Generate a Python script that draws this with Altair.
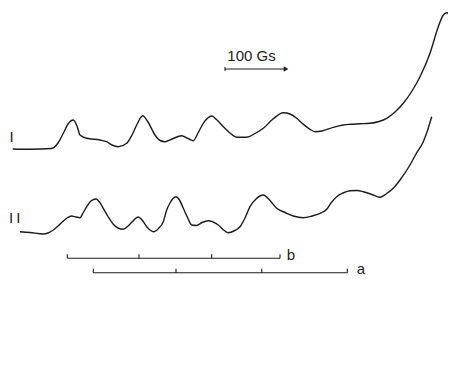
import altair as alt
import pandas as pd

# ---- data (in figure units) ----
curve1_x = [12.7, 30, 51.7, 58, 63.3, 68, 73.3, 77, 80, 86.7, 100, 106.7, 112, 118.3, 126.7, 132, 136.7,
            142.7, 148, 155, 160, 165, 172, 181.7, 188, 193.3, 198, 203.3, 211.7, 217, 223.3, 230, 236.7,
            246.7, 255, 263.3, 273, 283.3, 290, 296.7, 303, 310, 315, 322, 333.3, 343.3, 350, 360, 370,
            379, 386.7, 395, 403.3, 412, 420, 430, 438.3, 443, 446.7, 449.5, 451.7, 453, 454, 455]
curve1_y = [149, 149.3, 148.5, 143, 133.3, 124, 120, 126, 135, 138.3, 140, 141.7, 145, 146.7, 143.3, 135, 125,
            115.7, 122, 135, 140.5, 141.7, 139, 135.7, 138.5, 140.7, 133, 123.3, 116, 120, 126.7, 133, 137.3,
            137.3, 133.5, 128.3, 119, 112.7, 114, 118.3, 124, 129.3, 131.7, 131, 127.3, 125, 124.3, 123.8, 123.3,
            121.5, 118.3, 112, 103.3, 91, 76.7, 53.3, 26.7, 15.5, 12.7, 15, 20, 35, 60, 90]

curve2_x = [20, 30, 43.3, 48, 53.3, 58, 63.3, 67, 71.7, 76, 80, 83, 86.7, 91, 96, 99.5, 103.3, 108, 113.3,
            118, 123.3, 127.5, 131.7, 138.3, 142, 146.7, 150, 154, 158.5, 163.3, 166.7, 170, 173, 176, 179.5,
            183.3, 187.5, 191.7, 196.7, 202, 208.3, 213, 218.3, 223, 228.3, 234, 240, 245, 250, 256, 263.3,
            270, 276.7, 285, 293.3, 303.3, 312, 320, 326.7, 331, 336.7, 343, 350, 357, 363.3, 372, 380, 386,
            393.3, 400, 410, 416, 423.3, 427, 431.7]
curve2_y = [231.7, 232.5, 234, 233, 230, 226, 221, 218, 216, 217, 217.7, 213, 206.7, 201, 199, 202, 208.3, 216.5,
            224.3, 228, 229.3, 226.5, 222.3, 217, 220, 226.7, 230, 231.7, 228.5, 221.7, 210, 203, 198.5, 196.7,
            200, 208.3, 217.5, 225, 225.5, 222.5, 220.7, 222, 225, 229.5, 232.7, 231, 226.7, 218, 206.7, 199,
            195, 200.5, 208.3, 212.5, 216, 217.7, 216, 213.3, 209.3, 203, 196.7, 193, 190.7, 190.5, 191.7,
            194.5, 197.3, 194, 188.3, 180, 165, 154, 141.7, 132, 116.7]

bar_names = ["b", "a"]
bar_start = [67.3, 93.3]
bar_end = [280, 347.3]
bar_level = [258.3, 272.7]
bar_ticks = [[67.3, 139, 211.7, 280], [93.3, 176, 261.7, 347.3]]

field_label = "100 Gs"
field_start, field_end, field_level = 225, 284, 69

trace_labels = ["I", "I", "I"]
trace_label_x = [11.5, 11, 18.3]
trace_label_y = [141.5, 222.5, 222.5]

# ---- tables ----
lines = pd.DataFrame(
    [{"x": x, "y": y, "trace": "I", "i": i} for i, (x, y) in enumerate(zip(curve1_x, curve1_y))]
    + [{"x": x, "y": y, "trace": "II", "i": i} for i, (x, y) in enumerate(zip(curve2_x, curve2_y))]
)
bars = pd.DataFrame({"name": bar_names, "x": bar_start, "x2": bar_end, "y": bar_level})
ticks = pd.DataFrame([{"x": t, "y": lv, "y2": lv - 4} for lv, ts in zip(bar_level, bar_ticks) for t in ts]
                     + [{"x": field_start, "y": field_level + 2, "y2": field_level - 2}])
bar_text = pd.DataFrame({"t": bar_names, "x": [291, 361], "y": [259.5, 273.5]})
arrow = pd.DataFrame({"x": [field_start], "x2": [field_end], "y": [field_level]})
head = pd.DataFrame({"x": [field_end + 2], "y": [field_level]})
ftext = pd.DataFrame({"t": [field_label], "x": [251.5], "y": [60.5]})
tl = pd.DataFrame({"t": trace_labels, "x": trace_label_x, "y": trace_label_y})

W, H = 440, 360
xs = alt.Scale(domain=[8, 8 + W], nice=False, zero=False)
ys = alt.Scale(domain=[8, 8 + H], nice=False, zero=False, reverse=True)
X = lambda f="x": alt.X(f, type="quantitative", scale=xs, axis=None)
Y = lambda f="y": alt.Y(f, type="quantitative", scale=ys, axis=None)
INK = "#1c1c1c"

curves = alt.Chart(lines).mark_line(color=INK, strokeWidth=1.4, interpolate="monotone", clip=False).encode(
    x=X(), y=Y(), detail="trace:N", order="i:Q")
bar_lines = alt.Chart(bars).mark_rule(color=INK, strokeWidth=1.1).encode(x=X(), x2="x2", y=Y())
tick_lines = alt.Chart(ticks).mark_rule(color=INK, strokeWidth=1.1).encode(x=X(), y=Y(), y2="y2")
bar_labels = alt.Chart(bar_text).mark_text(font="Liberation Sans", fontSize=15, color=INK,
                                           baseline="alphabetic", align="center").encode(x=X(), y=Y(), text="t")
arrow_line = alt.Chart(arrow).mark_rule(color=INK, strokeWidth=1.1).encode(x=X(), x2="x2", y=Y())
arrow_head = alt.Chart(head).mark_point(shape="triangle-right", filled=True, size=28, color=INK,
                                        opacity=1).encode(x=X(), y=Y())
field_text = alt.Chart(ftext).mark_text(font="Liberation Sans", fontSize=15, color=INK,
                                        baseline="alphabetic", align="center").encode(x=X(), y=Y(), text="t")
trace_text = alt.Chart(tl).mark_text(font="Liberation Sans", fontSize=15, color=INK,
                                     baseline="alphabetic", align="center").encode(x=X(), y=Y(), text="t")

chart = alt.layer(curves, bar_lines, tick_lines, bar_labels, arrow_line, arrow_head, field_text,
                  trace_text).properties(
    width=W, height=H, padding=0, autosize=alt.AutoSizeParams(type="none"), background="white"
).configure_view(stroke=None)

chart.save("out.html", embed_options={"renderer": "svg", "actions": False})
